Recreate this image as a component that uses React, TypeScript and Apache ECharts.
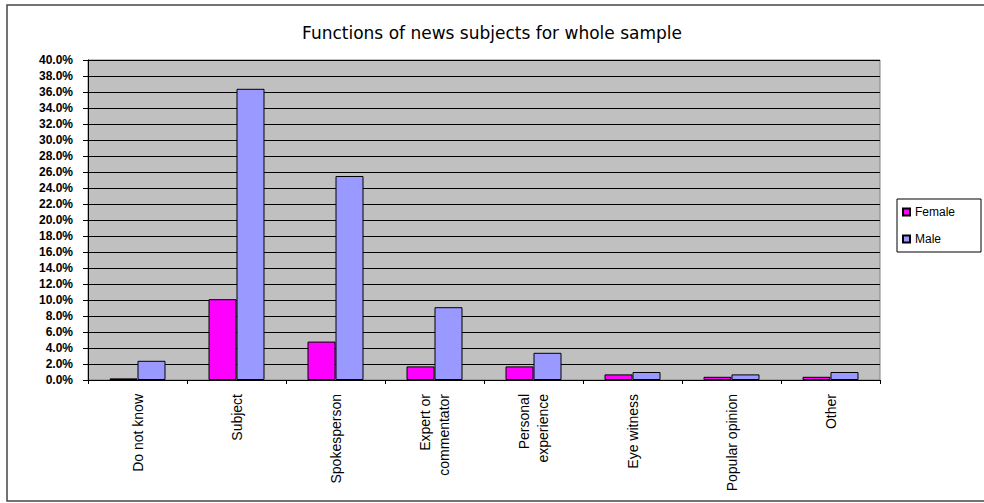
import React, { useEffect, useRef } from "react";
import * as echarts from "echarts";

const titleText = "Functions of news subjects for whole sample";
const categories = [
  "Do not know",
  "Subject",
  "Spokesperson",
  "Expert or\ncommentator",
  "Personal\nexperience",
  "Eye witness",
  "Popular opinion",
  "Other",
];
const femaleValues = [0.2, 10.1, 4.8, 1.7, 1.7, 0.7, 0.4, 0.4];
const maleValues = [2.4, 36.4, 25.5, 9.1, 3.4, 1.0, 0.7, 1.0];
const seriesNames = ["Female", "Male"];

export default function App() {
  const ref = useRef<HTMLDivElement>(null);
  useEffect(() => {
    if (!ref.current) return;
    const chart = echarts.init(ref.current, null, { renderer: "svg" });
    const font = "Arial, 'Liberation Sans', sans-serif";
    chart.setOption({
      animation: false,
      backgroundColor: "#ffffff",
      title: {
        text: titleText,
        left: "center",
        top: 19,
        textStyle: { fontFamily: "'DejaVu Sans', sans-serif", fontSize: 17, fontWeight: "normal", color: "#000" },
      },
      legend: {
        orient: "vertical",
        left: 897,
        top: 199,
        data: seriesNames,
        icon: "rect",
        itemWidth: 7,
        itemHeight: 7,
        itemGap: 15,
        padding: [7, 26, 7, 5],
        borderColor: "#000",
        borderWidth: 1,
        backgroundColor: "#fff",
        textStyle: { fontFamily: font, fontSize: 12, color: "#000" },
      },
      grid: {
        left: 88,
        right: 104,
        top: 60,
        bottom: 123,
        show: true,
        backgroundColor: "#C0C0C0",
        borderColor: "#808080",
        borderWidth: 1,
      },
      xAxis: {
        type: "category",
        data: categories,
        axisLine: { show: true, lineStyle: { color: "#000", width: 1 } },
        axisTick: { show: true, length: 4, lineStyle: { color: "#000" } },
        axisLabel: {
          rotate: 90,
          fontFamily: font,
          fontSize: 14,
          color: "#000",
          margin: 14,
          lineHeight: 19,
        },
      },
      yAxis: {
        type: "value",
        min: 0,
        max: 40,
        interval: 2,
        axisLine: { show: true, lineStyle: { color: "#000", width: 1 } },
        axisTick: { show: true, length: 5, lineStyle: { color: "#000" } },
        axisLabel: {
          fontFamily: font,
          fontSize: 12,
          fontWeight: "bold",
          color: "#000",
          margin: 15,
          formatter: (v: number) => v.toFixed(1) + "%",
        },
        splitLine: { show: true, lineStyle: { color: "#000", width: 1 } },
      },
      series: [
        {
          name: seriesNames[0],
          type: "bar",
          data: femaleValues,
          barWidth: 28,
          barGap: "0%",
          itemStyle: { color: "#FF00FF", borderColor: "#000", borderWidth: 1 },
        },
        {
          name: seriesNames[1],
          type: "bar",
          data: maleValues,
          barWidth: 28,
          barGap: "0%",
          itemStyle: { color: "#9999FF", borderColor: "#000", borderWidth: 1 },
        },
      ],
      graphic: [
        {
          type: "rect",
          shape: { x: 7, y: 5, width: 1000, height: 496 },
          style: { fill: "none", stroke: "#444", lineWidth: 1.5 },
          silent: true,
        },
      ],
    });
    return () => chart.dispose();
  }, []);
  return (
    <div
      ref={ref}
      style={{ position: "fixed", left: 0, top: 0, width: 984, height: 503 }}
    />
  );
}
